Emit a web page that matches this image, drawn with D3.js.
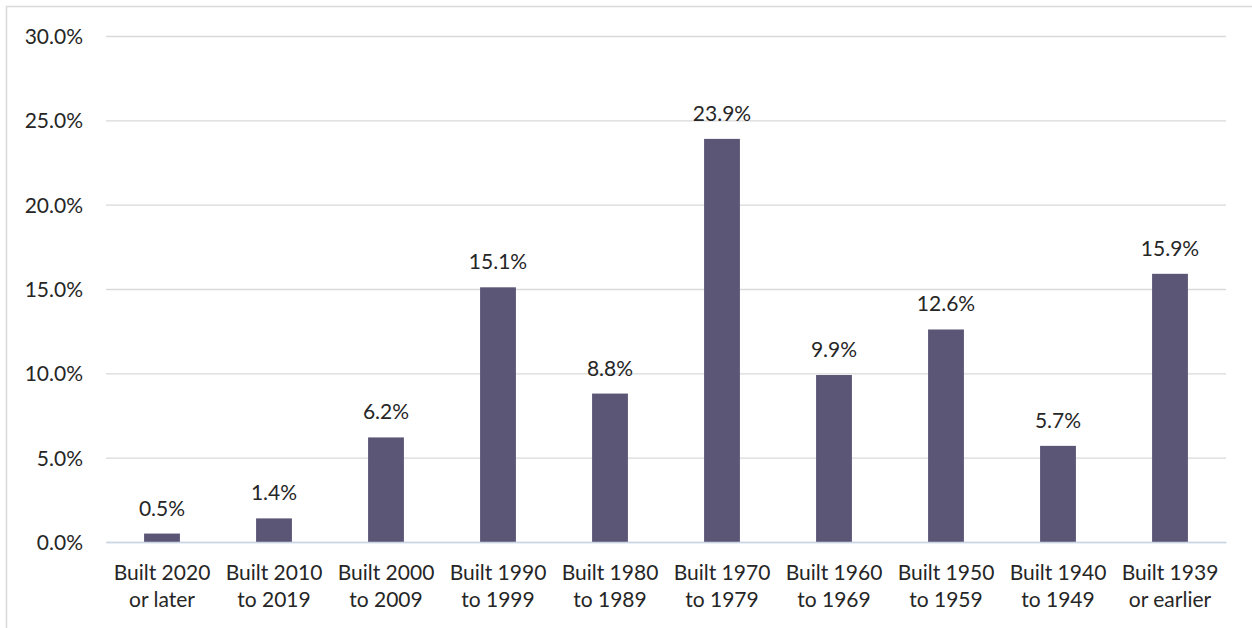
<!DOCTYPE html>
<html>
<head>
<meta charset="utf-8">
<script src="https://cdn.jsdelivr.net/npm/d3@7"></script>
<style>
  html, body { margin: 0; padding: 0; background: #fff; }
  svg { display: block; }
  text { font-family: Lato, "Open Sans", sans-serif; fill: #262626; }
</style>
</head>
<body>
<svg id="chart" width="1252" height="628"></svg>
<script>
const categories = [
  ["Built 2020", "or later"],
  ["Built 2010", "to 2019"],
  ["Built 2000", "to 2009"],
  ["Built 1990", "to 1999"],
  ["Built 1980", "to 1989"],
  ["Built 1970", "to 1979"],
  ["Built 1960", "to 1969"],
  ["Built 1950", "to 1959"],
  ["Built 1940", "to 1949"],
  ["Built 1939", "or earlier"]
];
const values = [0.5, 1.4, 6.2, 15.1, 8.8, 23.9, 9.9, 12.6, 5.7, 15.9];
const yTicks = [0, 5, 10, 15, 20, 25, 30];

const svg = d3.select("#chart");
const W = 1252, H = 628;
const margin = { left: 106, right: 26, top: 36, bottom: 86 };
const fontSize = 21;

// outer frame
svg.append("rect")
  .attr("x", 6.5).attr("y", 6.5)
  .attr("width", W + 10).attr("height", H + 10)
  .attr("fill", "none").attr("stroke", "#d9d9d9").attr("stroke-width", 1.5);

const x = d3.scaleBand()
  .domain(d3.range(categories.length))
  .range([margin.left, W - margin.right])
  .paddingInner(0.68).paddingOuter(0.34);

const y = d3.scaleLinear()
  .domain([0, 30])
  .range([H - margin.bottom, margin.top]);

// gridlines
const yAxis = d3.axisLeft(y)
  .tickValues(yTicks)
  .tickSize(-(W - margin.right - margin.left))
  .tickPadding(23)
  .tickFormat(d => d.toFixed(1) + "%");

const gy = svg.append("g")
  .attr("transform", `translate(${margin.left},0)`)
  .call(yAxis);
gy.select(".domain").remove();
gy.selectAll(".tick line").attr("stroke", "#d9d9d9").attr("stroke-width", 1.3);
gy.selectAll(".tick text")
  .attr("font-size", fontSize)
  .attr("fill", "#262626")
  .attr("dy", "0.35em");

// bars
svg.append("g").selectAll("rect")
  .data(values)
  .join("rect")
  .attr("x", (d, i) => x(i))
  .attr("width", x.bandwidth())
  .attr("y", d => y(d))
  .attr("height", d => y(0) - y(d))
  .attr("fill", "#5b5675");

// baseline axis
const xAxis = d3.axisBottom(x).tickSize(0).tickFormat("");
const gx = svg.append("g")
  .attr("transform", `translate(0,${y(0)})`)
  .call(xAxis);
gx.select(".domain").attr("stroke", "#c9d5e6").attr("stroke-width", 1.5);

// category labels
const labelG = svg.append("g");
categories.forEach((lines, i) => {
  const t = labelG.append("text")
    .attr("x", x(i) + x.bandwidth() / 2)
    .attr("y", y(0) + 38)
    .attr("text-anchor", "middle")
    .attr("font-size", fontSize);
  lines.forEach((ln, k) => {
    t.append("tspan")
      .attr("x", x(i) + x.bandwidth() / 2)
      .attr("dy", k === 0 ? 0 : 27)
      .text(ln);
  });
});

// value labels
svg.append("g").selectAll("text")
  .data(values)
  .join("text")
  .attr("x", (d, i) => x(i) + x.bandwidth() / 2)
  .attr("y", d => y(d) - 18)
  .attr("text-anchor", "middle")
  .attr("font-size", fontSize)
  .text(d => d.toFixed(1) + "%");
</script>
</body>
</html>
